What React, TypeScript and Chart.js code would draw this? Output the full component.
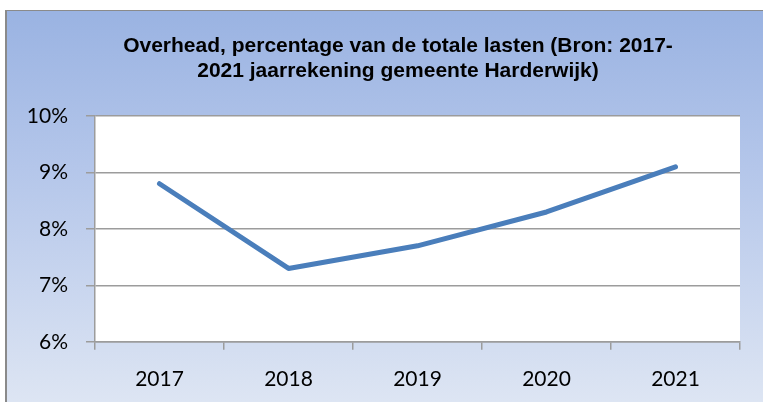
import React, { useEffect, useRef } from "react";
import { Chart, registerables } from "chart.js";

Chart.register(...registerables);

const categories = ["2017", "2018", "2019", "2020", "2021"];
const overheadPct = [8.8, 7.3, 7.7, 8.3, 9.1];
const yTicks = [6, 7, 8, 9, 10];
const titleLines = [
  "Overhead, percentage van de totale lasten (Bron: 2017-",
  "2021 jaarrekening gemeente Harderwijk)",
];

const GRID = "#9c9c9c";

const whiteArea = {
  id: "whiteArea",
  beforeDraw(chart: any) {
    const { ctx, chartArea } = chart;
    if (!chartArea) return;
    ctx.save();
    ctx.fillStyle = "#ffffff";
    ctx.fillRect(chartArea.left, chartArea.top, chartArea.right - chartArea.left, chartArea.bottom - chartArea.top);
    ctx.restore();
  },
};

export default function App() {
  const ref = useRef<HTMLCanvasElement | null>(null);

  useEffect(() => {
    if (!ref.current) return;
    const chart = new Chart(ref.current, {
      type: "line",
      data: {
        labels: categories,
        datasets: [
          {
            label: "Overhead",
            data: overheadPct,
            borderColor: "#4a7ebb",
            backgroundColor: "#4a7ebb",
            borderWidth: 5,
            borderCapStyle: "round",
            borderJoinStyle: "round",
            pointRadius: 0,
            tension: 0,
            yAxisID: "y",
          },
        ],
      },
      plugins: [whiteArea],
      options: {
        responsive: false,
        animation: false,
        layout: { padding: { left: 0, right: 0, top: 0, bottom: 0 } },
        plugins: {
          legend: { display: false },
          tooltip: { enabled: false },
          title: {
            display: true,
            text: titleLines,
            color: "#000000",
            font: { family: "'Liberation Sans', Arial, sans-serif", size: 21, weight: "bold", lineHeight: "25px" },
            padding: { top: 23, bottom: 32 },
          },
        },
        scales: {
          x: {
            type: "category",
            offset: true,
            grid: {
              drawOnChartArea: false,
              offset: true,
              tickLength: 8,
              color: GRID,
              lineWidth: 1.5,
            },
            border: { display: true, color: GRID, width: 1.5 },
            ticks: {
              color: "#000000",
              padding: 17,
              maxRotation: 0,
              font: { family: "Lato, 'Open Sans', sans-serif", size: 21 },
            },
          },
          y: {
            position: "left",
            min: 6,
            max: 10,
            afterFit: (scale: any) => {
              scale.width = 88;
            },
            afterBuildTicks: (scale: any) => {
              scale.ticks = yTicks.map((v) => ({ value: v }));
            },
            grid: { color: GRID, lineWidth: 1.5, tickLength: 9 },
            border: { display: true, color: GRID, width: 1.5 },
            ticks: {
              color: "#000000",
              padding: 18,
              callback: (v: any) => v + "%",
              font: { family: "Lato, 'Open Sans', sans-serif", size: 21 },
            },
          },
          yRight: {
            position: "right",
            min: 0,
            max: 1,
            display: true,
            afterFit: (scale: any) => {
              scale.width = 49;
            },
            grid: { display: false, drawOnChartArea: false },
            border: { display: false },
            ticks: { display: false },
          },
        },
      },
    } as any);
    return () => chart.destroy();
  }, []);

  return (
    <div
      style={{
        position: "fixed",
        left: 5,
        top: 10,
        width: 756,
        height: 391,
        borderLeft: "2px solid #8a8a8a",
        borderTop: "1px solid #8a8a8a",
        background: "linear-gradient(to bottom, #9ab3e2 0%, #b4c6ea 40%, #dde5f3 100%)",
        overflow: "hidden",
      }}
    >
      <canvas ref={ref} width={782} height={398} style={{ display: "block" }} />
    </div>
  );
}
